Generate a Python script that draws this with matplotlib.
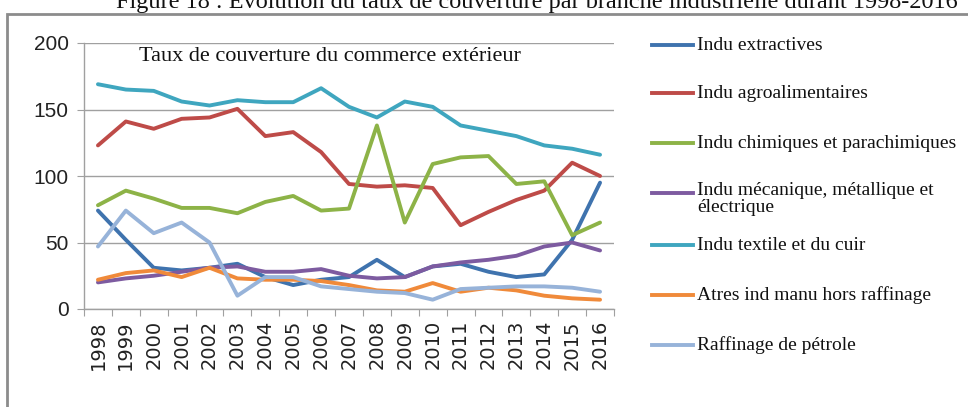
import matplotlib
matplotlib.use("Agg")
import matplotlib.pyplot as plt
from matplotlib.lines import Line2D
from matplotlib.patches import Rectangle

years = [str(y) for y in range(1998, 2017)]

extractives = [74, 52, 31, 29, 31, 34, 24, 18, 22, 24, 37, 24, 32, 34, 28, 24, 26, 52, 95]
agro = [123, 141, 135.5, 143, 144, 150.5, 130, 133, 118, 94, 92, 93, 91, 63, 73, 82, 89, 110, 100]
chimiques = [78, 89, 83, 76, 76, 72, 80.5, 85, 74, 75.5, 138, 65, 109, 114, 115, 94, 96, 55.5, 65]
mecanique = [20, 23, 25, 28, 31, 32, 28, 28, 30, 25, 23, 24, 32, 35, 37, 40, 47, 50, 44]
textile = [169, 165, 164, 156, 153, 157, 155.5, 155.5, 166, 152, 144, 156, 152, 138, 134, 130, 123, 120.5, 116]
autres = [22, 27, 29, 24, 31, 23, 22, 22, 21, 18, 14, 13, 19.5, 13, 16, 14, 10, 8, 7]
raffinage = [47, 74, 57, 65, 50, 10, 24, 24, 17, 15, 13, 12, 7, 15, 16, 17, 17, 16, 13]

labels = ["Indu extractives", "Indu agroalimentaires", "Indu chimiques et parachimiques",
          "Indu mécanique, métallique et\nélectrique", "Indu textile et du cuir",
          "Atres ind manu hors raffinage", "Raffinage de pétrole"]
series = [extractives, agro, chimiques, mecanique, textile, autres, raffinage]
colors = ["#3F73AE", "#BE4B48", "#8DB347", "#7D5BA0", "#3FA6BF", "#F08A3A", "#97B3D9"]

W, H = 968, 407
fig = plt.figure(figsize=(W / 100, H / 100), dpi=100)

def fx(px):
    return px / W

def fy(py):
    return 1 - py / H

# outer frame
fig.patches.append(Rectangle((fx(7), fy(1000)), 2.0, fy(14) - fy(1000), transform=fig.transFigure,
                             fill=False, edgecolor="#8c8c8c", linewidth=2.0, clip_on=False))

# figure caption at top (cut by the page edge, as in the source)
fig.text(fx(537), fy(8), "Figure 18 : Évolution du taux de couverture par branche industrielle durant 1998-2016",
         ha="center", va="baseline", fontsize=17.5, family="Liberation Serif", color="#111111")

ax = fig.add_axes([fx(84), fy(309), fx(614) - fx(84), fy(43) - fy(309)])
x = list(range(len(years)))
for s, c in zip(series, colors):
    ax.plot(x, s, color=c, linewidth=2.8, solid_joinstyle="round", solid_capstyle="round")

ax.set_xlim(-0.5, len(years) - 0.5)
ax.set_ylim(0, 200)
ax.set_yticks([0, 50, 100, 150, 200])
ax.yaxis.grid(True, color="#a0a0a0", linewidth=1.0)
ax.set_axisbelow(True)
for sp in ["top", "right"]:
    ax.spines[sp].set_visible(False)
for sp in ["left", "bottom"]:
    ax.spines[sp].set_color("#a0a0a0")
    ax.spines[sp].set_linewidth(1.0)

ax.set_xticks([i - 0.5 for i in range(len(years) + 1)], minor=False)
ax.set_xticklabels([])
ax.set_xticks(x, minor=True)
ax.set_xticklabels(years, minor=True, rotation=90, fontsize=14, family="DejaVu Sans", color="#222222")
ax.tick_params(axis="x", which="major", direction="out", length=5, color="#a0a0a0")
ax.tick_params(axis="x", which="minor", length=0, pad=8)
ax.tick_params(axis="y", direction="out", length=5, color="#a0a0a0", labelsize=15, labelcolor="#222222", pad=6)
for t in ax.get_yticklabels():
    t.set_family("Liberation Sans")

ax.text((330 - 84) / 530, 0.985, "Taux de couverture du commerce extérieur", transform=ax.transAxes,
        ha="center", va="top", fontsize=16, family="Liberation Serif", color="#111111")

# legend (manual, to match the source layout)
leg_y = [45, 93, 143, 193, 245, 295, 345]
for lab, c, yy in zip(labels, colors, leg_y):
    fig.add_artist(Line2D([fx(652), fx(693)], [fy(yy), fy(yy)], transform=fig.transFigure,
                          color=c, linewidth=2.8))
    if "\n" in lab:
        fig.text(fx(697), fy(yy - 11), lab, ha="left", va="top", fontsize=14,
                 family="Liberation Serif", color="#111111", linespacing=1.0)
    else:
        fig.text(fx(697), fy(yy), lab, ha="left", va="center", fontsize=14,
                 family="Liberation Serif", color="#111111")

fig.savefig("out.png", dpi=100)
